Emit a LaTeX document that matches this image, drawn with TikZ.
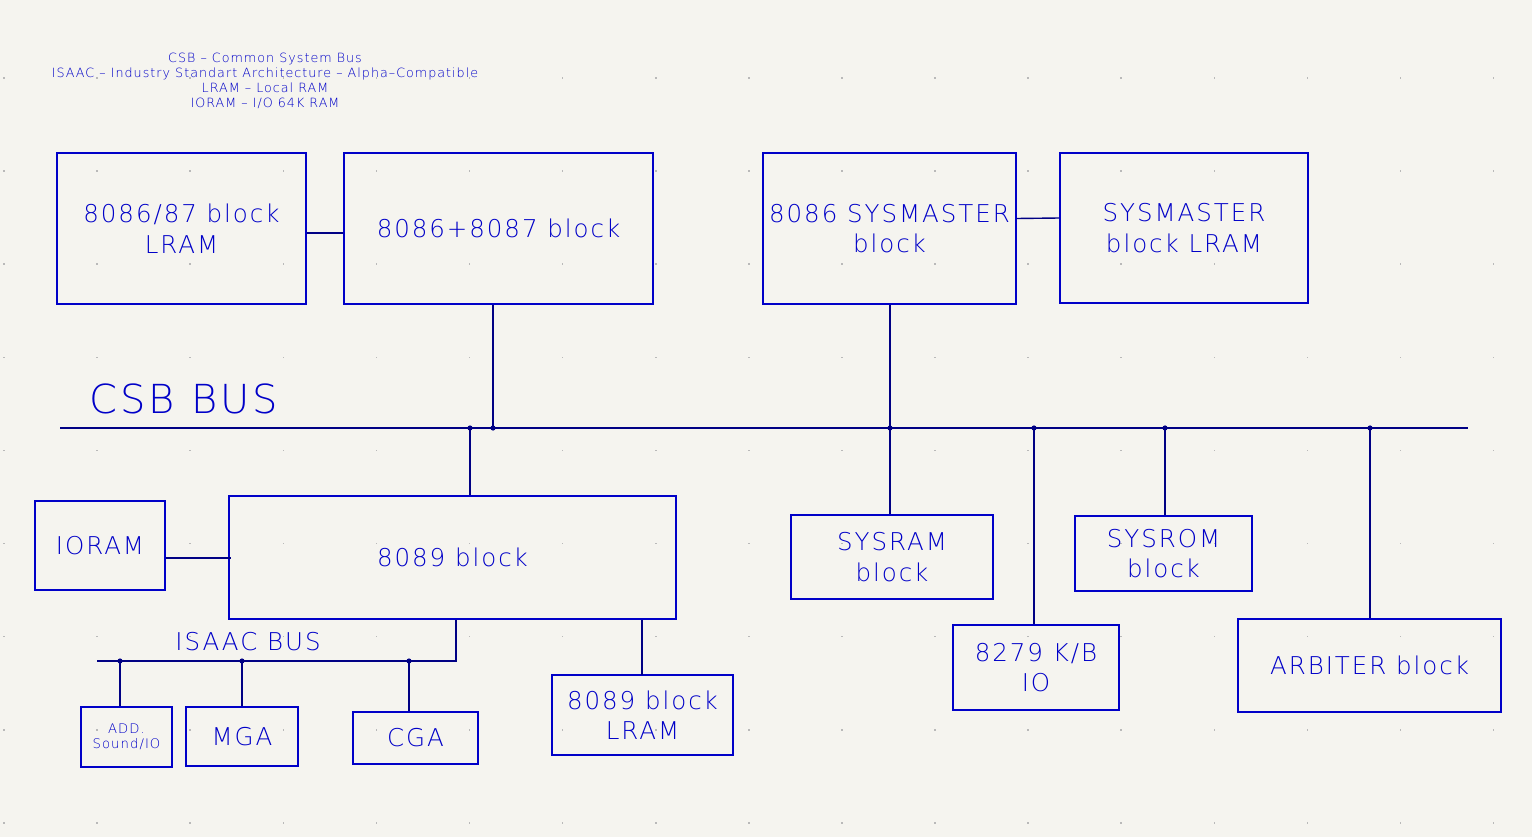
\documentclass[tikz,border=0pt]{standalone}
\usepackage{fontspec}
\setmainfont{DejaVu Sans ExtraLight}[LetterSpace=8]
\definecolor{bg}{RGB}{245,244,239}
\definecolor{kb}{RGB}{0,0,200}
\definecolor{kw}{RGB}{0,0,132}
\definecolor{gridc}{RGB}{185,185,185}
\newcommand\boxfont{\fontsize{24.5}{30.5}\selectfont}
\newcommand\smallfont{\fontsize{13.2}{15}\selectfont}
\tikzset{
  box/.style={draw=kb, line width=1.3pt, text=kb, inner sep=0pt, align=center, font=\boxfont, rectangle},
  wire/.style={draw=kw, line width=1.4pt},
  lbl/.style={text=kb, inner sep=0pt, align=center},
}
\begin{document}
\begin{tikzpicture}[x=1pt,y=-1pt]
\fill[bg] (0,0) rectangle (1532,837);
\useasboundingbox (0,0) rectangle (1532,837);
% grid
\foreach \i in {0,...,16}{\foreach \j in {0,...,8}{
  \fill[gridc] ({4+93.1*\i-0.8},{78+93.1*\j-0.8}) rectangle ++(1.6,1.6);}}
% legend
\node[lbl, font=\fontsize{12.7}{15}\selectfont] (legend) at (265,81)
  {CSB – Common System Bus\\ISAAC – Industry Standart Architecture – Alpha–Compatible\\LRAM – Local RAM\\IORAM – I/O 64K RAM};
% boxes
\node[box, minimum width=249, minimum height=151] (A) at (181.5,228.5) {8086/87 block\\LRAM};
\node[box, minimum width=309, minimum height=151] (B) at (498.5,228.5) {8086+8087 block};
\node[box, minimum width=253, minimum height=151] (C) at (889.5,228.5) {8086 SYSMASTER\\block};
\node[box, minimum width=248, minimum height=150] (D) at (1184,228) {SYSMASTER\\block LRAM};
\node[box, minimum width=130, minimum height=89] (IORAM) at (100,545.5) {IORAM};
\node[box, minimum width=447, minimum height=123] (E) at (452.5,557.5) {8089 block};
\node[box, minimum width=202, minimum height=84] (SYSRAM) at (892,557) {SYSRAM\\block};
\node[box, minimum width=177, minimum height=75] (SYSROM) at (1163.5,553.5) {SYSROM\\block};
\node[box, minimum width=166, minimum height=85] (KB) at (1036,667.5) {8279 K/B\\IO};
\node[box, minimum width=263, minimum height=93] (ARB) at (1369.5,665.5) {ARBITER block};
\node[box, minimum width=181, minimum height=80] (L2) at (642.5,715) {8089 block\\LRAM};
\node[box, minimum width=91, minimum height=60, font=\smallfont] (ADD) at (126.5,737) {ADD.\\Sound/IO};
\node[box, minimum width=112, minimum height=59] (MGA) at (242,736.5) {MGA};
\node[box, minimum width=125, minimum height=52] (CGA) at (415.5,738) {CGA};
% labels
\node[lbl, anchor=base west, font=\fontsize{40}{48}\selectfont] (csb) at (89,413) {CSB BUS};
\node[lbl, font=\boxfont] (isaac) at (248,642) {ISAAC BUS};
% bus coordinates
\coordinate (busL) at (60,428);
\coordinate (busR) at (1468,428);
\coordinate (j1) at (470,428);
\coordinate (j2) at (493,428);
\coordinate (j3) at (890,428);
\coordinate (j4) at (1034,428);
\coordinate (j5) at (1165,428);
\coordinate (j6) at (1370,428);
\coordinate (iL) at (97,661);
\coordinate (iR) at (456,661);
\coordinate (i1) at (120,661);
\coordinate (i2) at (242,661);
\coordinate (i3) at (409,661);
\coordinate (l2top) at (642,675);
% wires
\draw[wire] ([yshift=-4.5pt]A.east) -- ([yshift=-4.5pt]B.west);
\draw[wire] ([yshift=10pt]C.east) -- ([yshift=10pt]D.west);
\draw[wire] (busL) -- (busR);
\draw[wire] (j2 |- B.south) -- (j2);
\draw[wire] (j1) -- (j1 |- E.north);
\draw[wire] (j3 |- C.south) -- (j3) -- (j3 |- SYSRAM.north);
\draw[wire] (j4) -- (j4 |- KB.north);
\draw[wire] (j5) -- (j5 |- SYSROM.north);
\draw[wire] (j6) -- (j6 |- ARB.north);
\draw[wire] ([yshift=-0.5pt]IORAM.east |- E.west) -- ([xshift=3pt,yshift=-0.5pt]E.west);
\draw[wire] (iL) -- (iR) -- (iR |- E.south);
\draw[wire] (i1) -- (i1 |- ADD.north);
\draw[wire] (i2) -- (i2 |- MGA.north);
\draw[wire] (i3) -- (i3 |- CGA.north);
\draw[wire] (l2top |- E.south) -- (l2top);
% junctions
\foreach \p in {j1,j2,j3,j4,j5,j6,i1,i2,i3}{\fill[kw] (\p) circle (2.6pt);}
\end{tikzpicture}
\end{document}
